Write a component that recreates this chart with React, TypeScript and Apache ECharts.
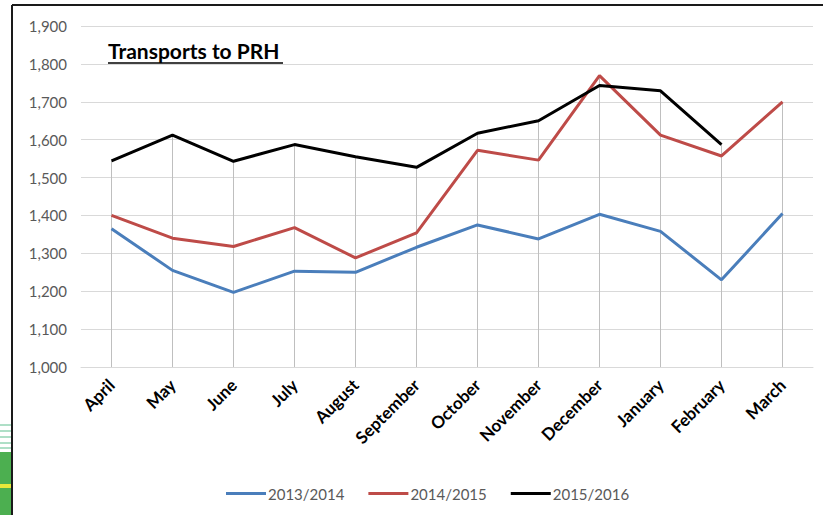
import React, { useEffect, useRef } from "react";
import * as echarts from "echarts";

const months = ["April", "May", "June", "July", "August", "September", "October", "November", "December", "January", "February", "March"];
const s2013 = [1365, 1255, 1197, 1253, 1250, 1316, 1375, 1338, 1403, 1358, 1230, 1405];
const s2014 = [1400, 1340, 1318, 1368, 1288, 1354, 1572, 1546, 1769, 1612, 1557, 1700];
const s2015: (number | null)[] = [1544, 1612, 1543, 1587, 1555, 1527, 1617, 1650, 1743, 1729, 1587, null];
const seriesNames = ["2013/2014", "2014/2015", "2015/2016"];
const yTicks = { min: 1000, max: 1900, interval: 100 };
const titleText = "Transports to PRH";

const FONT = "Lato, 'Open Sans', sans-serif";

export default function App() {
  const ref = useRef<HTMLDivElement>(null);
  useEffect(() => {
    if (!ref.current) return;
    const chart = echarts.init(ref.current, undefined, { renderer: "svg" });
    const dropData = months.map((_, i) => {
      const vals = [s2013[i], s2014[i], s2015[i]].filter((v) => v != null) as number[];
      return [i, Math.max(...vals)];
    });
    chart.setOption({
      animation: false,
      backgroundColor: "#ffffff",
      textStyle: { fontFamily: FONT },
      grid: { left: 81, right: 10, top: 26, bottom: 148 },
      legend: {
        data: seriesNames,
        left: 221,
        top: 481,
        icon: "rect",
        itemWidth: 40,
        itemHeight: 3,
        itemGap: 24,
        textStyle: { color: "#595959", fontSize: 15, fontFamily: FONT, padding: [0, 0, 0, -3] },
      },
      xAxis: {
        type: "category",
        data: months,
        boundaryGap: true,
        axisLine: { lineStyle: { color: "#d9d9d9", width: 1 } },
        axisTick: { show: false },
        axisLabel: {
          rotate: 45,
          interval: 0,
          margin: 15,
          color: "#000000",
          fontWeight: "bold",
          fontSize: 17,
          fontFamily: FONT,
        },
      },
      yAxis: {
        type: "value",
        min: yTicks.min,
        max: yTicks.max,
        interval: yTicks.interval,
        axisLine: { show: false },
        axisTick: { show: false },
        splitLine: { lineStyle: { color: "#d9d9d9", width: 1 } },
        axisLabel: {
          margin: 14,
          color: "#595959",
          fontSize: 15,
          fontFamily: FONT,
          formatter: (v: number) => v.toLocaleString("en-US"),
        },
      },
      graphic: [
        { type: "line", shape: { x1: 12, y1: 5, x2: 823, y2: 5 }, style: { stroke: "#1a1a1a", lineWidth: 2 } },
        { type: "line", shape: { x1: 12, y1: 5, x2: 12, y2: 515 }, style: { stroke: "#1a1a1a", lineWidth: 2 } },
        { type: "rect", shape: { x: 0, y: 452, width: 11, height: 63 }, style: { fill: "#4caf50" } },
        { type: "rect", shape: { x: 0, y: 484, width: 11, height: 4 }, style: { fill: "#e8e83a" } },
        { type: "line", shape: { x1: 0, y1: 425, x2: 11, y2: 425 }, style: { stroke: "#5fbf8f", lineWidth: 1 } },
        { type: "line", shape: { x1: 0, y1: 431, x2: 11, y2: 431 }, style: { stroke: "#5fbf8f", lineWidth: 1 } },
        { type: "line", shape: { x1: 0, y1: 437, x2: 11, y2: 437 }, style: { stroke: "#5fbf8f", lineWidth: 1 } },
        { type: "line", shape: { x1: 0, y1: 443, x2: 11, y2: 443 }, style: { stroke: "#5fbf8f", lineWidth: 1 } },
        { type: "line", shape: { x1: 0, y1: 448, x2: 11, y2: 448 }, style: { stroke: "#5fbf8f", lineWidth: 1 } },
        {
          type: "text",
          left: 108,
          top: 40,
          style: { text: titleText, fill: "#000000", font: `bold 21px ${FONT}` },
        },
        { type: "line", shape: { x1: 108, y1: 63, x2: 283, y2: 63 }, style: { stroke: "#000000", lineWidth: 1.5 } },
      ],
      series: [
        {
          type: "custom",
          name: "drop",
          z: 1,
          silent: true,
          data: dropData,
          renderItem: (params: any, api: any) => {
            const top = api.coord([api.value(0), api.value(1)]);
            const bottom = api.coord([api.value(0), yTicks.min]);
            return {
              type: "line",
              shape: { x1: top[0], y1: top[1], x2: bottom[0], y2: bottom[1] },
              style: { stroke: "#bfbfbf", lineWidth: 1 },
            };
          },
        },
        {
          type: "line",
          name: seriesNames[0],
          data: s2013,
          symbol: "none",
          z: 3,
          itemStyle: { color: "#4a7ebb" },
          lineStyle: { color: "#4a7ebb", width: 3 },
        },
        {
          type: "line",
          name: seriesNames[1],
          data: s2014,
          symbol: "none",
          z: 3,
          itemStyle: { color: "#be4b48" },
          lineStyle: { color: "#be4b48", width: 3 },
        },
        {
          type: "line",
          name: seriesNames[2],
          data: s2015,
          symbol: "none",
          z: 4,
          itemStyle: { color: "#000000" },
          lineStyle: { color: "#000000", width: 3 },
        },
      ],
    });
    return () => chart.dispose();
  }, []);
  return (
    <div
      ref={ref}
      style={{ position: "fixed", left: 0, top: 0, width: 823, height: 515, background: "#fff" }}
    />
  );
}
